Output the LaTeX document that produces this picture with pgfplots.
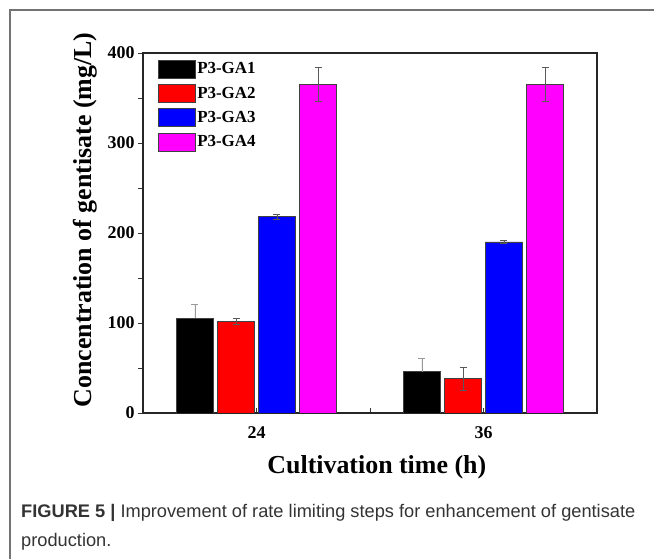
\documentclass[border=0pt]{standalone}
\usepackage{pgfplots}
\pgfplotsset{compat=1.18}
\usepackage{fontspec}
\setmainfont{Liberation Serif}
\newfontfamily\capfont{Liberation Sans}

% bar colours
\definecolor{ga1}{RGB}{0,0,0}
\definecolor{ga2}{RGB}{255,0,0}
\definecolor{ga3}{RGB}{0,0,255}
\definecolor{ga4}{RGB}{255,0,255}

\begin{document}
\begin{tikzpicture}[x=1bp,y=1bp]
\path[use as bounding box] (0,0) rectangle (654,559);
% outer frame of the figure panel
\draw[black!55, line width=1.2bp] (10,0) -- (10,549) -- (654,549);

\begin{axis}[
    at={(143bp,146bp)}, anchor=south west,
    width=454bp, height=360bp, scale only axis,
    xmin=-0.5, xmax=1.5,
    ymin=0, ymax=400,
    ybar, bar width=0.163,
    xtick={0,1}, xticklabels={24,36},
    minor xtick={0.5},
    ytick={0,100,200,300,400},
    minor ytick={50,150,250,350},
    tick pos=left,
    xtick align=inside, ytick align=outside,
    major tick length=5bp, minor tick length=5bp,
    tick style={line width=0.8bp, black!80},
    axis line style={line width=1.2bp, black!85},
    /pgf/number format/assume math mode=true,
    ticklabel style={font=\bfseries\fontsize{18}{18}\selectfont},
    xticklabel style={yshift=-10bp},
    ylabel={Concentration of gentisate (mg/L)},
    xlabel={Cultivation time (h)},
    label style={font=\bfseries\fontsize{26}{26}\selectfont},
    ylabel style={at={(axis description cs:-0.128,0.536)}, anchor=center},
    xlabel style={at={(axis description cs:0.515,-0.15)}, anchor=center},
    legend image code/.code={\draw[#1] (0bp,-9bp) rectangle (37bp,9bp);},
    legend cell align=left,
    legend style={at={(axis description cs:0,1)}, anchor=north west,
        xshift=12bp, yshift=-4.5bp, draw=none, fill=none,
        font=\bfseries\fontsize{17}{17}\selectfont,
        row sep=5.7bp, nodes={inner sep=1.5bp},
        /tikz/every even column/.append style={column sep=1bp}},
    error bars/y dir=both, error bars/y explicit,
    error bars/error bar style={line width=0.6bp, black!65},
    error bars/error mark options={rotate=90, mark size=3.5bp, line width=0.6bp, black!65},
]

\addplot[bar shift=-0.271, fill=ga1, draw=black!75, line width=0.6bp,
    error bars/y dir=plus, error bars/error bar style={line width=0.6bp, black!40},
    error bars/error mark options={rotate=90, mark size=3.5bp, line width=0.6bp, black!40}]
    coordinates {(0,105) +- (0,16) (1,46) +- (0,15)};
\addplot[bar shift=-0.090, fill=ga2, draw=black!75, line width=0.6bp]
    coordinates {(0,102) +- (0,3) (1,38) +- (0,13)};
\addplot[bar shift=0.090, fill=ga3, draw=black!75, line width=0.6bp]
    coordinates {(0,218) +- (0,2.5) (1,190) +- (0,2)};
\addplot[bar shift=0.271, fill=ga4, draw=black!75, line width=0.6bp]
    coordinates {(0,365) +- (0,19) (1,365) +- (0,19)};
\legend{P3-GA1,P3-GA2,P3-GA3,P3-GA4}
\end{axis}

% figure caption
\node[anchor=base west, inner sep=0pt, text=black!80,
      font=\capfont\fontsize{18.3}{18.3}\selectfont]
    at (21,41.5) {\textbf{FIGURE 5 |} Improvement of rate limiting steps for enhancement of gentisate};
\node[anchor=base west, inner sep=0pt, text=black!80,
      font=\capfont\fontsize{18.3}{18.3}\selectfont]
    at (21,12) {production.};
\end{tikzpicture}
\end{document}
